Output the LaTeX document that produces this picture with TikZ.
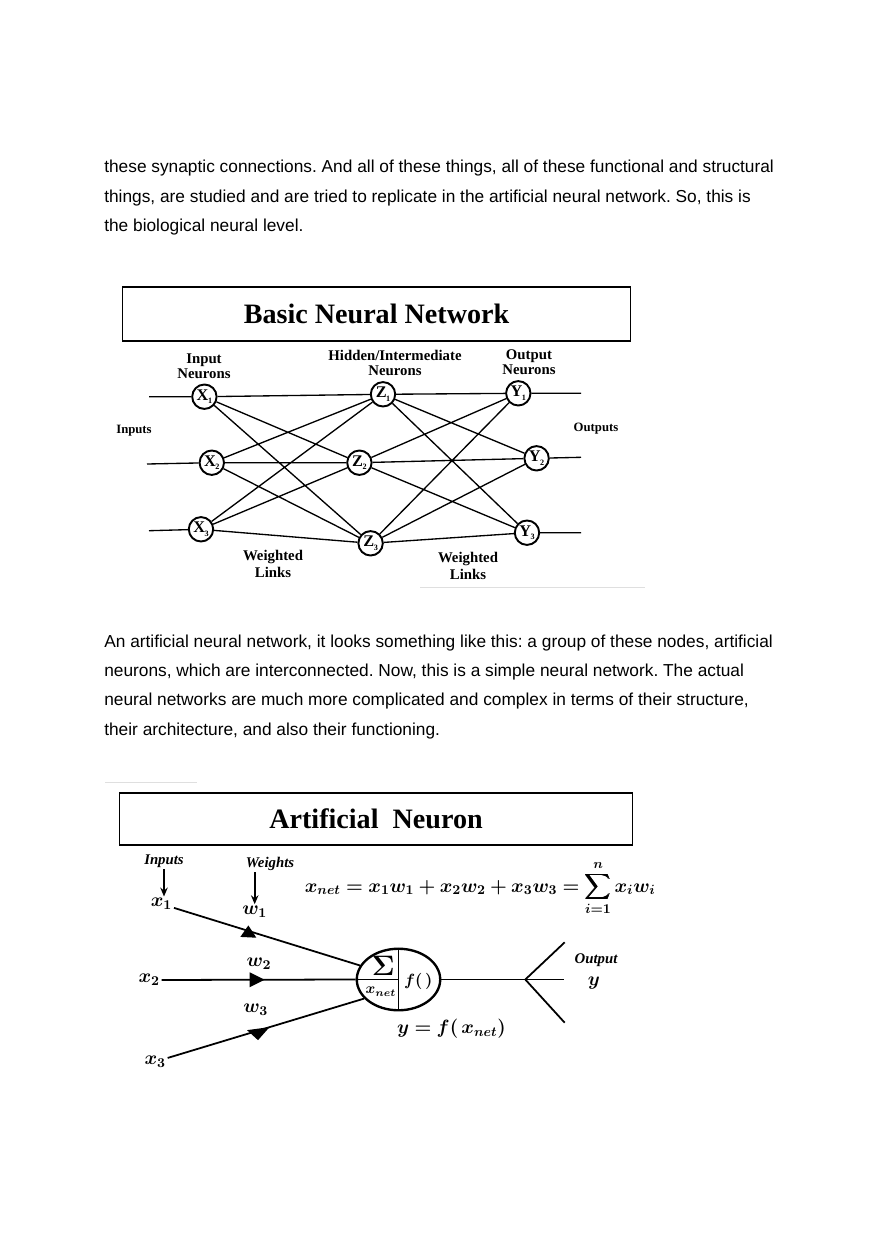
\RequirePackage{fix-cm}
\documentclass[tikz,border=0pt]{standalone}
\usepackage{fontspec}
\usepackage{amsmath}
\usepackage{bm}
\setmainfont{Liberation Serif}
\newfontfamily\bodyfont{Liberation Sans}
\usetikzlibrary{shapes.geometric, arrows.meta, positioning}
\frenchspacing

\newcommand{\nsub}[2]{#1\kern-0.3pt\raisebox{-0.5ex}{\fontsize{5.5}{5.5}\selectfont #2}}

\begin{document}
\begin{tikzpicture}[
  x=0.676pt, y=-0.676pt,
  bodytext/.style={anchor=base west, inner sep=0pt, font=\bodyfont\fontsize{11.7}{14}\selectfont},
  titlebox/.style={rectangle, draw, line width=1.2pt, inner sep=0pt,
                   font=\bfseries\fontsize{19}{22}\selectfont},
  neuron/.style={circle, draw, line width=1.3pt, minimum size=16.5pt, inner sep=0pt,
                 font=\bfseries\fontsize{11}{11}\selectfont},
  grouplbl/.style={align=center, inner sep=1pt, font=\bfseries\fontsize{10}{10}\selectfont},
  linklbl/.style={align=center, inner sep=1pt, font=\bfseries\fontsize{10}{12}\selectfont},
  sidelbl/.style={inner sep=1pt, font=\bfseries\fontsize{8.6}{10}\selectfont},
  link/.style={line width=0.9pt},
  wire/.style={line width=1.2pt},
  downarrow/.style={-{Stealth[length=6pt, width=5pt]}, line width=1.2pt},
  itlbl/.style={inner sep=1pt, font=\bfseries\itshape\fontsize{10}{12}\selectfont},
  mathlbl/.style={inner sep=1pt, font=\fontsize{13}{15}\selectfont},
  scanline/.style={line width=1pt, gray!25}
]
\useasboundingbox (0,0) rectangle (880,1245);

\node[bodytext] (p1a) at (104,172.7) {these synaptic connections. And all of these things, all of these functional and structural};
\node[bodytext] (p1b) at (104,202.2) {things, are studied and are tried to replicate in the artificial neural network. So, this is};
\node[bodytext] (p1c) at (104,231.7) {the biological neural level.};

\node[titlebox, minimum width=343.4pt, minimum height=36.7pt] (bnn) at (376.5,314) {Basic Neural Network};

\node[grouplbl] (inneur)  at (204,366) {Input\\Neurons};
\node[grouplbl] (hidneur) at (395,363) {Hidden/Intermediate\\Neurons};
\node[grouplbl] (outneur) at (529,362) {Output\\Neurons};
\node[sidelbl] (inputs)  at (134,431) {Inputs};
\node[sidelbl] (outputs) at (596,429) {Outputs};

\node[neuron] (x1) at (204.4,396.7) {\nsub{X}{1}};
\node[neuron] (x2) at (211.8,462.7) {\nsub{X}{2}};
\node[neuron] (x3) at (201,529.3) {\nsub{X}{3}};
\node[neuron] (z1) at (383,394.3) {\nsub{Z}{1}};
\node[neuron] (z2) at (359.4,462.7) {\nsub{Z}{2}};
\node[neuron] (z3) at (370.6,543.3) {\nsub{Z}{3}};
\node[neuron] (y1) at (518.3,393.3) {\nsub{Y}{1}};
\node[neuron] (y2) at (536.6,458.3) {\nsub{Y}{2}};
\node[neuron] (y3) at (527,532.7) {\nsub{Y}{3}};

\node[linklbl] (wl1) at (273,564) {Weighted\\Links};
\node[linklbl] (wl2) at (468,566) {Weighted\\Links};

\coordinate (in1) at (149,396.7);
\coordinate (in2) at (147,464);
\coordinate (in3) at (149,530.7);
\coordinate (out1) at (581,393.3);
\coordinate (out2) at (581,457.3);
\coordinate (out3) at (581,532.7);

\draw[link] (in1) -- (x1) (in2) -- (x2) (in3) -- (x3);
\draw[link] (y1) -- (out1) (y2) -- (out2) (y3) -- (out3);
\draw[link] (x1) -- (z1) (x1) -- (z2) (x1) -- (z3)
            (x2) -- (z1) (x2) -- (z2) (x2) -- (z3)
            (x3) -- (z1) (x3) -- (z2) (x3) -- (z3);
\draw[link] (z1) -- (y1) (z1) -- (y2) (z1) -- (y3)
            (z2) -- (y1) (z2) -- (y2) (z2) -- (y3)
            (z3) -- (y1) (z3) -- (y2) (z3) -- (y3);
\draw[scanline] (420,587.5) -- (645,587.5);

\node[bodytext] (p2a) at (104,647.5) {An artificial neural network, it looks something like this: a group of these nodes, artificial};
\node[bodytext] (p2b) at (104,676.7) {neurons, which are interconnected. Now, this is a simple neural network. The actual};
\node[bodytext] (p2c) at (104,705.9) {neural networks are much more complicated and complex in terms of their structure,};
\node[bodytext] (p2d) at (104,735.1) {their architecture, and also their functioning.};

\draw[scanline] (105,782.5) -- (197,782.5);
\node[titlebox, minimum width=346.8pt, minimum height=35.4pt] (an) at (376,819) {Artificial\ \ Neuron};

\node[itlbl] (inlbl) at (164,861) {Inputs};
\node[itlbl] (wlbl) at (270,864) {Weights};
\node[mathlbl] (xin1) at (161.5,904) {$\bm{x_1}$};
\node[mathlbl] (xin2) at (149.2,980) {$\bm{x_2}$};
\node[mathlbl] (xin3) at (155.2,1061.7) {$\bm{x_3}$};
\node[mathlbl] (w1) at (254.7,911.7) {$\bm{w_1}$};
\node[mathlbl] (w2) at (258.9,963.3) {$\bm{w_2}$};
\node[mathlbl] (w3) at (255.7,1010) {$\bm{w_3}$};

\draw[downarrow] (inlbl.south) -- (inlbl.south |- xin1.north);
\draw[downarrow] (w1.north |- wlbl.south) -- (w1.north);

\node[mathlbl, anchor=base west] (neteq) at (303,892)
  {$\bm{x_{net} = x_1w_1 + x_2w_2 + x_3w_3 = \displaystyle\sum_{i=1}^{n} x_iw_i}$};

\node[ellipse, draw, line width=1.6pt, minimum width=56.4pt, minimum height=41.6pt, inner sep=0pt] (cell) at (398.5,979.5) {};
\draw[wire] (cell.north) -- (cell.south);
\draw[wire] (cell.west) -- (cell.center);
\node[inner sep=0pt, font=\fontsize{19}{19}\selectfont] (sigma) at (383.3,966.2) {$\bm{\Sigma}$};
\node[inner sep=0pt, font=\fontsize{10}{10}\selectfont] (xnet) at (381,991.7) {$\bm{x_{net}}$};
\node[inner sep=0pt, font=\fontsize{11}{11}\selectfont] (fn) at (418.3,981.7) {$\bm{f(\,)}$};

\draw[wire] (xin1) -- coordinate[pos=0.4] (m1) (cell.160);
\draw[wire] (xin2) -- coordinate[pos=0.49] (m2) (cell.west);
\draw[wire] (xin3) -- coordinate[pos=0.46] (m3) (cell.209);
\fill[shift={(m1)}] (-8,6) -- (8,6.8) -- (0,-5.5) -- cycle;
\fill[shift={(m2)}] (-7,-7.5) -- (-7,7.5) -- (8,0) -- cycle;
\fill[shift={(m3)}] (-11,-0.5) -- (11.5,-3.5) -- (0,9.5) -- cycle;

\coordinate (fork) at (525.3,979.5);
\coordinate (outmid) at (564,979.5);
\coordinate (outup) at (564.7,942.3);
\coordinate (outdn) at (564.7,1022.7);
\draw[wire] (cell.east) -- (fork) -- (outmid);
\draw[wire] (outup) -- (fork) -- (outdn);

\node[itlbl] (outlbl) at (596,960) {Output};
\node[mathlbl] (ylbl) at (594,983) {$\bm{y}$};
\node[mathlbl] (yeq) at (451.5,1028.3) {$\bm{y = f(\,x_{net})}$};
\end{tikzpicture}
\end{document}
